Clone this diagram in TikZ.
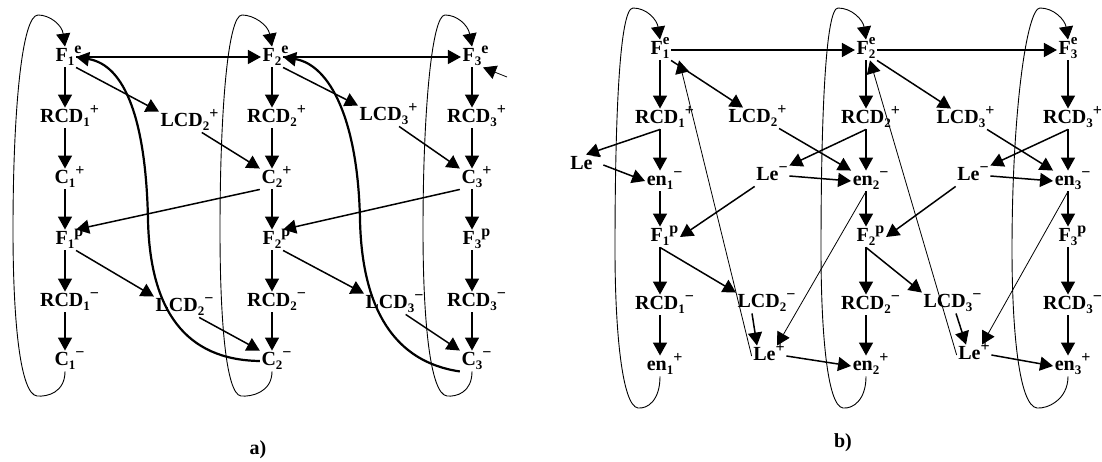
\documentclass[tikz,border=0pt]{standalone}
\usepackage{fontspec}
\setmainfont{Liberation Serif}
\usetikzlibrary{arrows.meta}
% state name: base, subscript, superscript hanging out to the right
\newcommand{\lab}[3]{#1\smash{\raisebox{-3.5pt}{\fontsize{13}{13}\selectfont #2}}\rlap{\smash{\raisebox{8pt}{\fontsize{16}{16}\selectfont #3}}}}
% superscript stacked over the subscript
\newcommand{\labs}[3]{#1\rlap{\smash{\raisebox{10pt}{\fontsize{15}{15}\selectfont #3}}}\smash{\raisebox{-3.5pt}{\fontsize{13}{13}\selectfont #2}}}
% superscript counted in the width
\newcommand{\labw}[3]{#1\smash{\raisebox{-3.5pt}{\fontsize{13}{13}\selectfont #2}}\smash{\raisebox{8pt}{\fontsize{16}{16}\selectfont #3}}}

\begin{document}
\begin{tikzpicture}[x=1pt, y=-1pt,
  st/.style={inner sep=1.5pt, text height=13.5pt, text depth=4pt,
             font=\bfseries\fontsize{20}{22}\selectfont},
  panel/.style={font=\bfseries\fontsize{20}{22}\selectfont},
  arrow/.style={-{Triangle[length=13pt,width=14pt]}, line width=1.5pt},
  thinarrow/.style={arrow, line width=0.8pt},
  back/.style={arrow, line width=2.2pt},
  loopline/.style={arrow, line width=0.9pt}
]
  \useasboundingbox (0,0) rectangle (1102,462);

  % ---- a) ----
  \node[st] (Fe1a) at (65,57)  {\lab{F}{1}{e}};
  \node[st] (Rp1a) at (65,118) {\lab{RCD}{1}{+}};
  \node[st] (Cp1a) at (65,179) {\lab{C}{1}{+}};
  \node[st] (Fp1a) at (65,240) {\lab{F}{1}{p}};
  \node[st] (Rm1a) at (65,302) {\lab{RCD}{1}{−}};
  \node[st] (Cm1a) at (65,361) {\lab{C}{1}{−}};
  \node[st] (Fe2a) at (272,57)  {\lab{F}{2}{e}};
  \node[st] (Rp2a) at (272,118) {\lab{RCD}{2}{+}};
  \node[st] (Cp2a) at (272,179) {\lab{C}{2}{+}};
  \node[st] (Fp2a) at (272,240) {\lab{F}{2}{p}};
  \node[st] (Rm2a) at (272,302) {\lab{RCD}{2}{−}};
  \node[st] (Cm2a) at (272,361) {\lab{C}{2}{−}};
  \node[st] (Fe3a) at (472,57)  {\lab{F}{3}{e}};
  \node[st] (Rp3a) at (472,118) {\lab{RCD}{3}{+}};
  \node[st] (Cp3a) at (472,179) {\lab{C}{3}{+}};
  \node[st] (Fp3a) at (472,240) {\lab{F}{3}{p}};
  \node[st] (Rm3a) at (472,302) {\lab{RCD}{3}{−}};
  \node[st] (Cm3a) at (472,361) {\lab{C}{3}{−}};
  \node[st] (Lp2a) at (185,122) {\lab{LCD}{2}{+}};
  \node[st] (Lm2a) at (180,307) {\lab{LCD}{2}{−}};
  \node[st] (Lp3a) at (384,116) {\lab{LCD}{3}{+}};
  \node[st] (Lm3a) at (390,304) {\lab{LCD}{3}{−}};
  \coordinate (in3) at (507,77);
  \node[panel] (capa) at (258,450) {a)};

  \draw[arrow] (Fe1a) -- (Rp1a);
  \draw[arrow] (Rp1a) -- (Cp1a);
  \draw[arrow] (Cp1a) -- (Fp1a);
  \draw[arrow] (Fp1a) -- (Rm1a);
  \draw[arrow] (Rm1a) -- (Cm1a);
  \draw[arrow] (Fe2a) -- (Rp2a);
  \draw[arrow] (Rp2a) -- (Cp2a);
  \draw[arrow] (Cp2a) -- (Fp2a);
  \draw[arrow] (Fp2a) -- (Rm2a);
  \draw[arrow] (Rm2a) -- (Cm2a);
  \draw[arrow] (Fe3a) -- (Rp3a);
  \draw[arrow] (Rp3a) -- (Cp3a);
  \draw[arrow] (Cp3a) -- (Fp3a);
  \draw[arrow] (Fp3a) -- (Rm3a);
  \draw[arrow] (Rm3a) -- (Cm3a);
  \draw[arrow] (Fe1a) -- (Fe2a);
  \draw[arrow] (Fe2a) -- (Fe3a);
  \draw[thinarrow] (in3) -- (Fe3a.south east);
  \draw[arrow] (Fe1a.south east) -- (Lp2a.north west);
  \draw[arrow] (Lp2a) -- (Cp2a.north west);
  \draw[arrow] (Cp2a.south west) -- (Fp1a.north east);
  \draw[arrow] (Fp1a.south east) -- (Lm2a.north west);
  \draw[arrow] (Lm2a) -- (Cm2a.north west);
  \draw[arrow] (Fe2a.south east) -- (Lp3a.north west);
  \draw[arrow] (Lp3a) -- (Cp3a.north west);
  \draw[arrow] (Cp3a.south west) -- (Fp2a.north east);
  \draw[arrow] (Fp2a.south east) -- (Lm3a.north west);
  \draw[arrow] (Lm3a) -- (Cm3a.north west);
  % return from the last state to the first one
  \draw[loopline] (Cm1a.south) .. controls (65,392) and (48,397) .. (37,396)
    .. controls (20,394) and (13,320) .. (13,230)
    .. controls (13,110) and (22,15) .. (38,15)
    .. controls (50,15) and (62,25) .. (Fe1a.north);
  \draw[loopline] (Cm2a.south) .. controls (272,392) and (252,397) .. (241,396)
    .. controls (226,394) and (220,320) .. (220,230)
    .. controls (220,110) and (228,15) .. (242,15)
    .. controls (254,15) and (268,25) .. (Fe2a.north);
  \draw[loopline] (Cm3a.south) .. controls (472,392) and (457,397) .. (447,396)
    .. controls (430,394) and (423,320) .. (423,230)
    .. controls (423,110) and (432,15) .. (445,15)
    .. controls (457,15) and (468,25) .. (Fe3a.north);
  \draw[back] (Cm2a.west) .. controls (185,360) and (150,310) .. (148,220)
    .. controls (146,120) and (125,65) .. (Fe1a.east);
  \draw[back] (Cm3a.south west) .. controls (395,362) and (362,310) .. (360,220)
    .. controls (358,120) and (330,65) .. (Fe2a.east);

  % ---- b) ----
  \node[st] (Fe1b) at (660,50)  {\labs{F}{1}{e}};
  \node[st] (Rp1b) at (660,119) {\lab{RCD}{1}{+}};
  \node[st] (Em1b) at (660,181) {\lab{en}{1}{−}};
  \node[st] (Fp1b) at (660,237) {\lab{F}{1}{p}};
  \node[st] (Rm1b) at (660,305) {\lab{RCD}{1}{−}};
  \node[st] (Ep1b) at (660,366) {\lab{en}{1}{+}};
  \node[st] (Fe2b) at (866,50)  {\labs{F}{2}{e}};
  \node[st] (Rp2b) at (866,119) {\lab{RCD}{2}{+}};
  \node[st] (Em2b) at (866,181) {\lab{en}{2}{−}};
  \node[st] (Fp2b) at (866,237) {\lab{F}{2}{p}};
  \node[st] (Rm2b) at (866,305) {\lab{RCD}{2}{−}};
  \node[st] (Ep2b) at (866,366) {\lab{en}{2}{+}};
  \node[st] (Fe3b) at (1068,50)  {\labs{F}{3}{e}};
  \node[st] (Rp3b) at (1068,119) {\lab{RCD}{3}{+}};
  \node[st] (Em3b) at (1068,181) {\lab{en}{3}{−}};
  \node[st] (Fp3b) at (1068,237) {\lab{F}{3}{p}};
  \node[st] (Rm3b) at (1068,305) {\lab{RCD}{3}{−}};
  \node[st] (Ep3b) at (1068,366) {\lab{en}{3}{+}};
  \node[st] (Lem1b) at (586,165) {\labw{Le}{}{−}};
  \node[st] (Lem2b) at (772,176) {\labw{Le}{}{−}};
  \node[st] (Lem3b) at (973,176) {\labw{Le}{}{−}};
  \node[st] (Lp2b) at (753,118) {\lab{LCD}{2}{+}};
  \node[st] (Lp3b) at (961,119) {\lab{LCD}{3}{+}};
  \node[st] (Lm2b) at (762,303) {\lab{LCD}{2}{−}};
  \node[st] (Lm3b) at (948,303) {\lab{LCD}{3}{−}};
  \node[st] (Lep2b) at (769,356) {\labw{Le}{}{+}};
  \node[st] (Lep3b) at (974,355) {\labw{Le}{}{+}};
  \node[panel] (capb) at (843,443) {b)};

  \draw[arrow] (Fe1b) -- (Rp1b);
  \draw[arrow] (Rp1b) -- (Em1b);
  \draw[arrow] (Em1b) -- (Fp1b);
  \draw[arrow] (Fp1b) -- (Rm1b);
  \draw[arrow] (Rm1b) -- (Ep1b);
  \draw[arrow] (Fe2b) -- (Rp2b);
  \draw[arrow] (Rp2b) -- (Em2b);
  \draw[arrow] (Em2b) -- (Fp2b);
  \draw[arrow] (Fp2b) -- (Rm2b);
  \draw[arrow] (Rm2b) -- (Ep2b);
  \draw[arrow] (Fe3b) -- (Rp3b);
  \draw[arrow] (Rp3b) -- (Em3b);
  \draw[arrow] (Em3b) -- (Fp3b);
  \draw[arrow] (Fp3b) -- (Rm3b);
  \draw[arrow] (Rm3b) -- (Ep3b);
  \draw[arrow] (Fe1b) -- (Fe2b);
  \draw[arrow] (Fe2b) -- (Fe3b);
  \draw[arrow] (Rp1b.south) -- (Lem1b.north);
  \draw[arrow] (Lem1b.east) -- (Em1b.west);
  \draw[arrow] (Fe1b.south east) -- ([xshift=-10pt]Lp2b.north);
  \draw[arrow] (Lp2b.south east) -- (Em2b.north west);
  \draw[arrow] (Rp2b.south) -- (Lem2b.north east);
  \draw[arrow] (Lem2b.east) -- (Em2b.west);
  \draw[arrow] (Lem2b.south west) -- ([xshift=9pt]Fp1b.east);
  \draw[arrow] (Fp1b.south) -- (Lm2b.north west);
  \draw[arrow] ([xshift=-10pt]Lm2b.south) -- ([xshift=-12pt]Lep2b.north);
  \draw[thinarrow] (Em2b.south) -- ([xshift=8pt]Lep2b.north);
  \draw[thinarrow] (Lep2b.west) -- ([xshift=8pt]Fe1b.south east);
  \draw[arrow] (Lep2b.east) -- (Ep2b.west);
  \draw[arrow] (Fe2b.south east) -- ([xshift=-10pt]Lp3b.north);
  \draw[arrow] (Lp3b.south east) -- (Em3b.north west);
  \draw[arrow] (Rp3b.south) -- (Lem3b.north east);
  \draw[arrow] (Lem3b.east) -- (Em3b.west);
  \draw[arrow] (Lem3b.south west) -- ([xshift=9pt]Fp2b.east);
  \draw[arrow] (Fp2b.south) -- (Lm3b.north west);
  \draw[arrow] ([xshift=8pt]Lm3b.south) -- ([xshift=-8pt]Lep3b.north);
  \draw[thinarrow] (Em3b.south) -- ([xshift=8pt]Lep3b.north);
  \draw[thinarrow] (Lep3b.west) -- ([xshift=4pt]Fe2b.south);
  \draw[arrow] (Lep3b.east) -- (Ep3b.west);
  % return from the last state to the first one
  \draw[loopline] (Ep1b.south) .. controls (660,400) and (648,409) .. (638,408)
    .. controls (622,406) and (615,330) .. (615,250)
    .. controls (615,110) and (620,8) .. (633,8)
    .. controls (647,8) and (657,20) .. (Fe1b.north);
  \draw[loopline] (Ep2b.south) .. controls (866,400) and (853,409) .. (843,408)
    .. controls (827,406) and (821,330) .. (821,250)
    .. controls (821,110) and (826,8) .. (838,8)
    .. controls (852,8) and (863,20) .. (Fe2b.north);
  \draw[loopline] (Ep3b.south) .. controls (1068,400) and (1047,409) .. (1037,408)
    .. controls (1019,406) and (1012,330) .. (1012,250)
    .. controls (1012,110) and (1027,8) .. (1040,8)
    .. controls (1054,8) and (1065,20) .. (Fe3b.north);
\end{tikzpicture}
\end{document}
